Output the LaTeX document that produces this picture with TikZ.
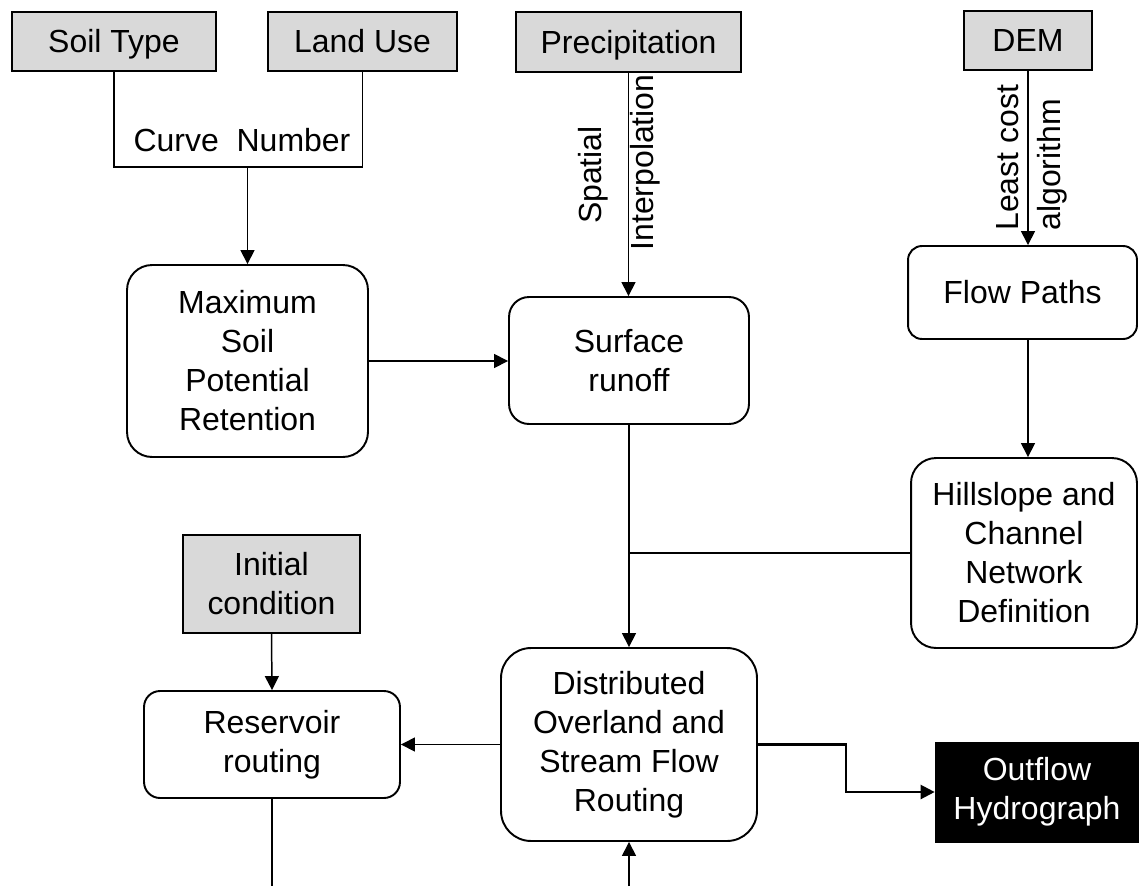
\documentclass[tikz,border=0pt]{standalone}
\usepackage{fontspec}
\setmainfont{Liberation Sans}
\usepackage{xcolor}
\usepackage{tikz}
\usetikzlibrary{calc,arrows.meta}
\definecolor{inputgray}{HTML}{D9D9D9}

\begin{document}
\begin{tikzpicture}[x=0.02cm,y=-0.02cm,>={Triangle[length=0.28cm,width=0.28cm]},
  font=\fontsize{18.2}{22.2}\selectfont,
  inbox/.style={draw, fill=inputgray, line width=1.1pt, align=center, inner sep=0},
  oneline/.style={text height=13pt, text depth=0pt},
  procbox/.style={draw, line width=1.1pt, align=center, inner sep=0, rounded corners=#1},
  link/.style={line width=0.85pt},
  lbl/.style={inner sep=0}]

\useasboundingbox (0,0) rectangle (1139,886);

% Draw input boxes
\node[inbox, oneline, minimum width=4.08cm, minimum height=1.18cm] (soil) at (114,41.5) {Soil Type};
\node[inbox, oneline, minimum width=3.78cm, minimum height=1.18cm] (land) at (362.5,41.5) {Land Use};
\node[inbox, oneline, minimum width=4.5cm, minimum height=1.2cm] (precip) at (628.5,42) {Precipitation};
\node[inbox, oneline, minimum width=2.56cm, minimum height=1.18cm] (dem) at (1028,40.5) {DEM};
\node[inbox, minimum width=3.54cm, minimum height=1.96cm] (init) at (271.5,584) {Initial\\condition};

% Draw process boxes
\node[procbox=0.5cm, minimum width=4.82cm, minimum height=3.84cm] (maxsoil) at (247.5,361) {Maximum\\Soil\\Potential\\Retention};
\node[procbox=0.4cm, minimum width=4.8cm, minimum height=2.54cm] (runoff) at (629,360.5) {Surface\\runoff};
\node[procbox=0.28cm, oneline, minimum width=4.58cm, minimum height=1.86cm] (flow) at (1022.5,292.5) {Flow Paths};
\node[procbox=0.5cm, minimum width=4.52cm, minimum height=3.8cm] (hill) at (1024,553) {Hillslope and\\Channel\\Network\\Definition};
\node[procbox=0.32cm, minimum width=5.12cm, minimum height=2.14cm] (reservoir) at (272,744.5) {Reservoir\\routing};
\node[procbox=0.6cm, minimum width=5.12cm, minimum height=3.86cm] (dist) at (629,744.5) {Distributed\\Overland and\\Stream Flow\\Routing};

% Draw output box
\node[draw, fill=black, text=white, align=center, inner sep=0, minimum width=4.08cm, minimum height=2cm] (outflow) at (1037,792) {Outflow\\Hydrograph};

% Draw labels on the links
\node[lbl] (cnlabel) at (242,140) {Curve\ \ Number};
\node[lbl, rotate=90] (spatial) at (593,175) {Spatial};
\node[lbl, rotate=90] (interp) at (645,162.5) {Interpolation};
\node[lbl, rotate=90, anchor=west] (leastcost) at (1008,231) {Least cost};
\node[lbl, rotate=90, anchor=west] (algo) at (1052,231) {algorithm};

% Free ends
\coordinate (cnjoin) at (248,167);
\coordinate (resout) at (272,886);
\coordinate (distin) at (629,886);

% Draw links
\draw[link] (soil.south) |- (land.south |- cnjoin) -- (land.south);
\draw[link,->] (maxsoil.north |- cnjoin) -- (maxsoil.north);
\draw[link,->] (precip.south) -- (precip.south |- runoff.north);
\draw[link,->] (dem.south) -- (dem.south |- flow.north);
\draw[link,->] (flow.south -| dem.south) -- (dem.south |- hill.north);
\draw[link,->] (maxsoil.east) -- (maxsoil.east -| runoff.west);
\draw[link,->] (runoff.south) -- (runoff.south |- dist.north);
\draw[link] (hill.west) -- (hill.west -| runoff.south);
\draw[link,->] (init.south) -- (reservoir.north);
\draw[link,->] (dist.west) -- (reservoir.east);
\draw[line width=1.3pt,->] (dist.east) -| ($(dist.east)!0.5!(outflow.west)$) |- (outflow.west);
\draw[link] (reservoir.south) -- (resout);
\draw[link,->] (distin) -- (dist.south);

\end{tikzpicture}
\end{document}
